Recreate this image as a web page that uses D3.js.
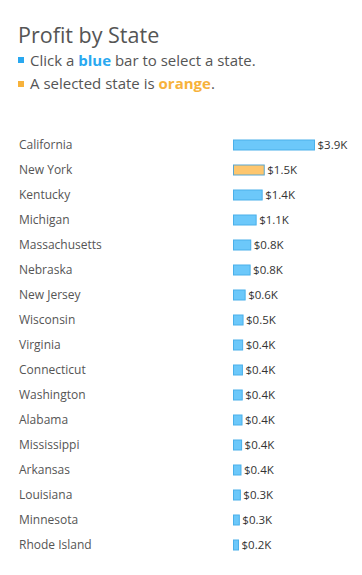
<!DOCTYPE html>
<html><head><meta charset="utf-8">
<script src="https://cdn.jsdelivr.net/npm/d3@7"></script>
<style>
body{margin:0;background:#fff;}
svg{display:block;}
</style></head>
<body><svg id="c" width="362" height="575"></svg>
<script>
const states = ["California","New York","Kentucky","Michigan","Massachusetts","Nebraska","New Jersey","Wisconsin","Virginia","Connecticut","Washington","Alabama","Mississippi","Arkansas","Louisiana","Minnesota","Rhode Island"];
const profit = [3900,1480,1380,1090,830,800,560,460,440,430,420,410,390,360,330,280,240];
const selected = ["New York"];

const svg = d3.select("#c");
const font = "'Open Sans', sans-serif";

svg.append("text").attr("x",18).attr("y",43).attr("font-family",font).attr("font-size",21.5)
  .attr("fill","#555").text("Profit by State");

svg.append("rect").attr("x",18).attr("y",57).attr("width",6).attr("height",6).attr("fill","#29a8f0");
const l1 = svg.append("text").attr("x",30).attr("y",66).attr("font-family",font).attr("font-size",15).attr("fill","#555");
l1.append("tspan").text("Click a ");
l1.append("tspan").attr("fill","#29a8f0").attr("font-weight","bold").text("blue");
l1.append("tspan").text(" bar to select a state.");

svg.append("rect").attr("x",18).attr("y",81).attr("width",6).attr("height",6).attr("fill","#f7b23b");
const l2 = svg.append("text").attr("x",30).attr("y",89).attr("font-family",font).attr("font-size",15).attr("fill","#555");
l2.append("tspan").text("A selected state is ");
l2.append("tspan").attr("fill","#f7b23b").attr("font-weight","bold").text("orange");
l2.append("tspan").text(".");

const y = d3.scaleBand().domain(states).range([132,557]).paddingInner(0.6).paddingOuter(0.3);
const x = d3.scaleLinear().domain([0,3900]).range([233,314]);

const rows = svg.append("g").selectAll("g").data(states).join("g");
rows.append("text").attr("x",19).attr("y",d=>y(d)+y.bandwidth()/2).attr("dy","0.35em")
  .attr("font-family",font).attr("font-size",12).attr("fill","#555").text(d=>d);
rows.append("rect").attr("x",x(0)+0.5).attr("y",d=>y(d)+0.5)
  .attr("width",(d,i)=>x(profit[i])-x(0)).attr("height",y.bandwidth())
  .attr("fill",d=>selected.includes(d)?"#fdc66e":"#6cc8fa")
  .attr("stroke",d=>selected.includes(d)?"#5aa6cf":"#4ab0ea").attr("stroke-width",1);
rows.append("text").attr("x",(d,i)=>x(profit[i])+3.5).attr("y",d=>y(d)+y.bandwidth()/2).attr("dy","0.35em")
  .attr("font-family",font).attr("font-size",11.5).attr("fill","#333")
  .text((d,i)=>"$"+d3.format(".1f")(profit[i]/1000)+"K");
</script></body></html>
